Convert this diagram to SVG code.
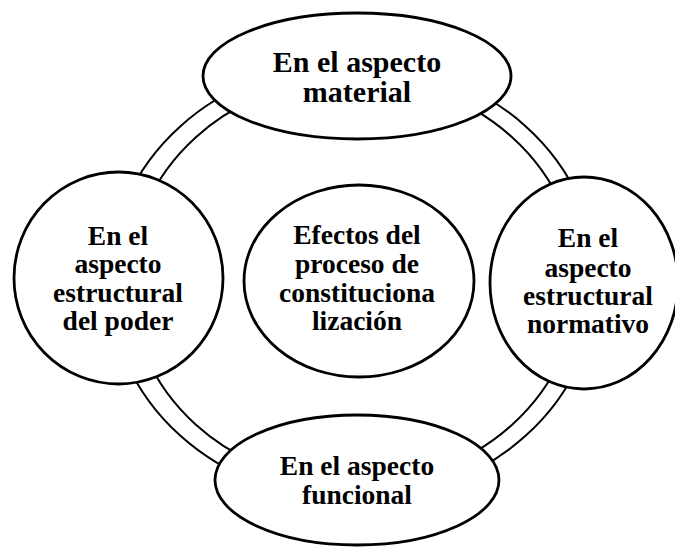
<svg xmlns="http://www.w3.org/2000/svg" width="675" height="548" viewBox="0 0 675 548">
<style>
.ring{fill:none;stroke:#000;stroke-width:2}
.node{fill:#fff;stroke:#000;stroke-width:2.8}
.t{font-family:"Liberation Serif","Times New Roman",serif;font-weight:bold;font-size:27.5px;text-anchor:middle;fill:#000}
.big{font-size:30px}
</style>
<rect width="675" height="548" fill="#fff"/>
<g id="connectors">
<ellipse class="ring" cx="353" cy="281" rx="244" ry="219"/>
<ellipse class="ring" cx="354" cy="281" rx="224" ry="203"/>
</g>
<g id="node-top">
<ellipse class="node" cx="357" cy="76" rx="154" ry="63"/>
<text class="t big" x="357" y="72">En el aspecto</text>
<text class="t big" x="357" y="102">material</text>
</g>
<g id="node-left">
<ellipse class="node" cx="118.5" cy="278" rx="104.5" ry="106"/>
<text class="t" x="118" y="245">En el</text>
<text class="t" x="118" y="273">aspecto</text>
<text class="t" x="118" y="301.5">estructural</text>
<text class="t" x="118" y="330">del poder</text>
</g>
<g id="node-right">
<ellipse class="node" cx="584" cy="283" rx="94" ry="106"/>
<text class="t" x="588" y="247">En el</text>
<text class="t" x="588" y="277">aspecto</text>
<text class="t" x="588" y="305">estructural</text>
<text class="t" x="588" y="333">normativo</text>
</g>
<g id="node-center">
<ellipse class="node" cx="359" cy="281" rx="115" ry="96"/>
<text class="t" x="357" y="244">Efectos del</text>
<text class="t" x="357" y="272.5">proceso de</text>
<text class="t" x="357" y="301.5">constituciona</text>
<text class="t" x="357" y="330">lización</text>
</g>
<g id="node-bottom">
<ellipse class="node" cx="357" cy="480" rx="142" ry="65"/>
<text class="t" x="357" y="475">En el aspecto</text>
<text class="t" x="357" y="504">funcional</text>
</g>
</svg>
